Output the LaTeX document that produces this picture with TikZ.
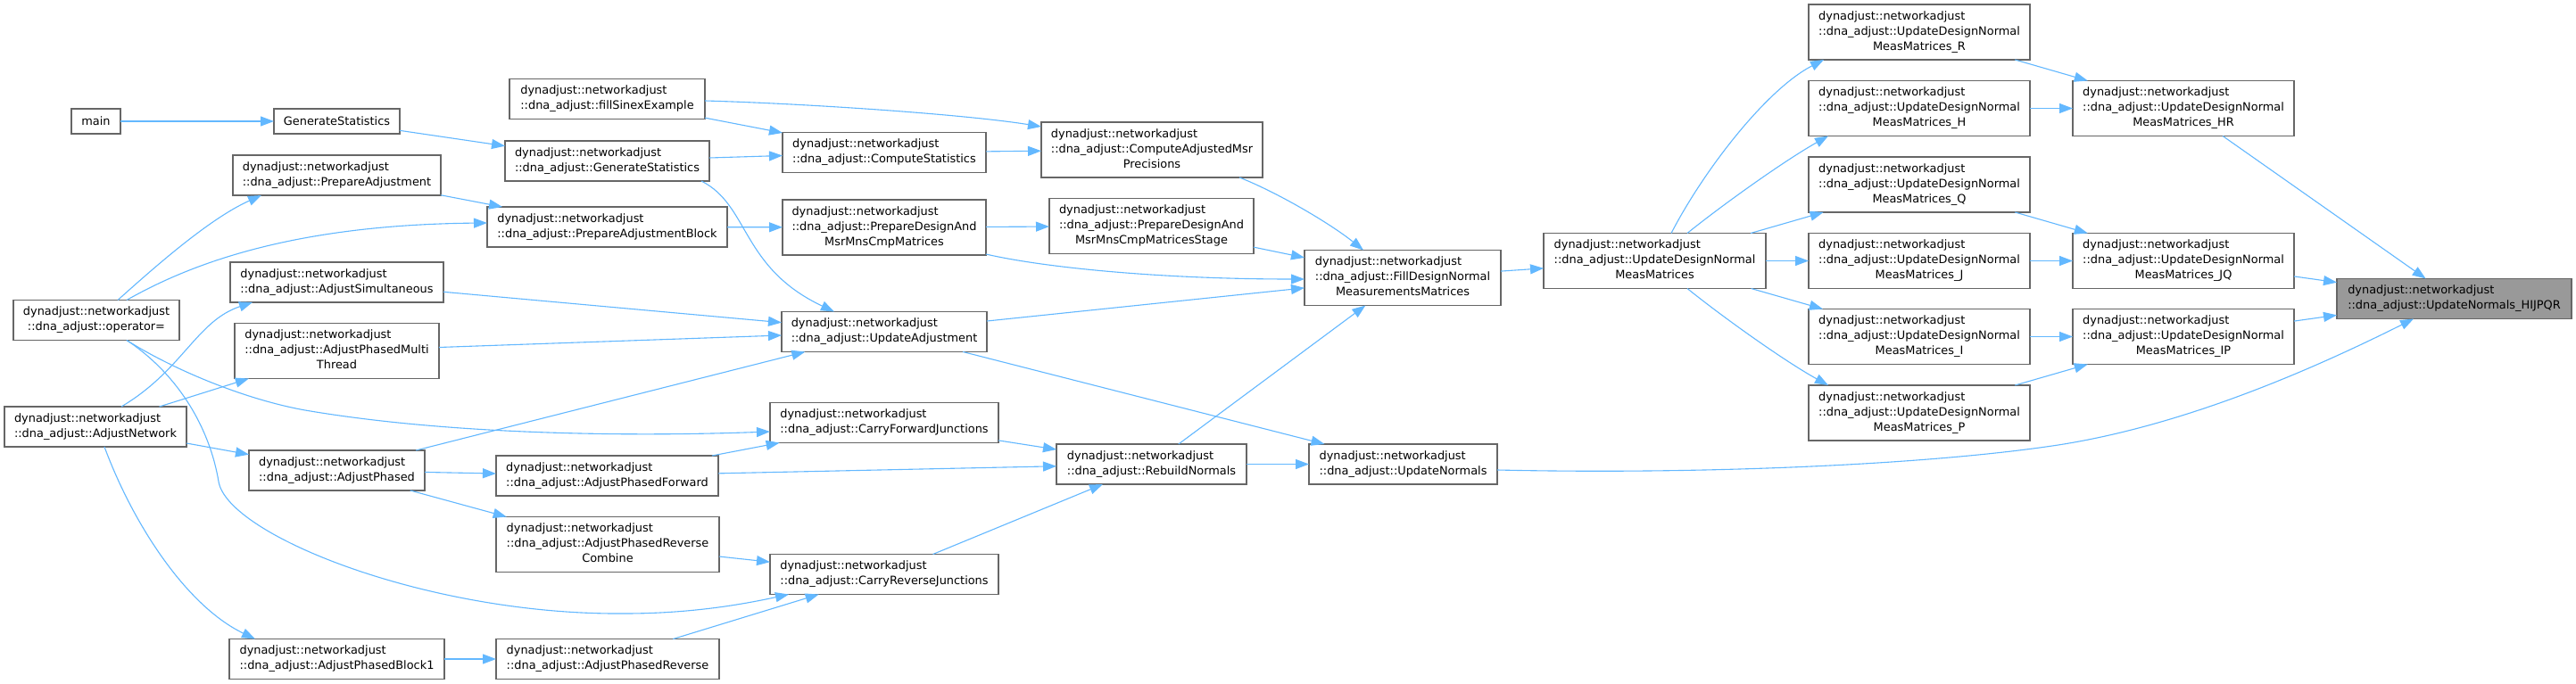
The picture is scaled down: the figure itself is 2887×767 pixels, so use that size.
\documentclass[tikz,border=0pt]{standalone}
\usepackage{fontspec}
\setmainfont{DejaVu Sans}
\usetikzlibrary{arrows.meta,calc}
\definecolor{edgeblue}{HTML}{63B8FF}
\definecolor{boxgray}{HTML}{666666}
\definecolor{hlgray}{HTML}{999999}
\newcommand\lbl{\fontsize{12.9}{17}\selectfont}
\newcommand\two[2]{\begin{tabular}{@{}l@{}}#1\\\multicolumn{1}{@{}c@{}}{#2}\end{tabular}}
\newcommand\three[3]{\begin{tabular}{@{}l@{}}#1\\#2\\\multicolumn{1}{@{}c@{}}{#3}\end{tabular}}
\newcommand\dn{dynadjust::networkadjust}
\newcommand\bx[6]{\node[box, minimum width=#4pt, minimum height=#5pt] (#1) at (#2,#3) {#6};}
\tikzset{
  box/.style={draw=boxgray, fill=white, line width=1.3pt, inner sep=0pt, outer sep=0pt, font=\lbl, align=center},
  e/.style={draw=edgeblue, line width=1.1pt, -{Triangle[length=15pt,width=11pt]}}
}
\begin{document}
\begin{tikzpicture}[x=1pt,y=-1pt]
\useasboundingbox[fill=white] (0,0) rectangle (2887,767);
% nodes
\bx{main}{107.5}{136}{55}{28}{main}
\bx{gsA}{377.5}{136}{141}{28}{GenerateStatistics}
\bx{fse}{680.5}{111}{219}{45}{\two{\dn}{::dna\_adjust::fillSinexExample}}
\bx{gs}{680.5}{180.5}{229}{45}{\two{\dn}{::dna\_adjust::GenerateStatistics}}
\bx{pa}{377.5}{196.5}{233}{45}{\two{\dn}{::dna\_adjust::PrepareAdjustment}}
\bx{pab}{680.5}{254.5}{269}{45}{\two{\dn}{::dna\_adjust::PrepareAdjustmentBlock}}
\bx{asim}{377.5}{316.5}{239}{45}{\two{\dn}{::dna\_adjust::AdjustSimultaneous}}
\bx{apmt}{377.5}{393.5}{229}{62}{\three{\dn}{::dna\_adjust::AdjustPhasedMulti}{Thread}}
\bx{op}{108}{359}{186}{45}{\two{\dn}{::dna\_adjust::operator=}}
\bx{an}{107}{478.5}{204}{45}{\two{\dn}{::dna\_adjust::AdjustNetwork}}
\bx{ap}{377.5}{527.5}{197}{45}{\two{\dn}{::dna\_adjust::AdjustPhased}}
\bx{apf}{680.5}{533.5}{249}{45}{\two{\dn}{::dna\_adjust::AdjustPhasedForward}}
\bx{aprc}{681}{610.5}{250}{62}{\three{\dn}{::dna\_adjust::AdjustPhasedReverse}{Combine}}
\bx{apbA}{377.5}{739}{241}{45}{\two{\dn}{::dna\_adjust::AdjustPhasedBlock1}}
\bx{apr}{681}{739}{250}{45}{\two{\dn}{::dna\_adjust::AdjustPhasedReverse}}
\bx{cs}{991}{171}{228}{45}{\two{\dn}{::dna\_adjust::ComputeStatistics}}
\bx{camp}{1291}{168}{248}{62}{\three{\dn}{::dna\_adjust::ComputeAdjustedMsr}{Precisions}}
\bx{pdm}{991}{255}{228}{62}{\three{\dn}{::dna\_adjust::PrepareDesignAnd}{MsrMnsCmpMatrices}}
\bx{pdms}{1290.5}{253.5}{229}{62}{\three{\dn}{::dna\_adjust::PrepareDesignAnd}{MsrMnsCmpMatricesStage}}
\bx{ua}{991}{372}{230}{45}{\two{\dn}{::dna\_adjust::UpdateAdjustment}}
\bx{cfj}{991}{474}{256}{45}{\two{\dn}{::dna\_adjust::CarryForwardJunctions}}
\bx{rn}{1290.5}{520.5}{213}{45}{\two{\dn}{::dna\_adjust::RebuildNormals}}
\bx{crj}{991}{644}{256}{45}{\two{\dn}{::dna\_adjust::CarryReverseJunctions}}
\bx{fd}{1572}{311.5}{220}{62}{\three{\dn}{::dna\_adjust::FillDesignNormal}{MeasurementsMatrices}}
\bx{un}{1572.5}{520.5}{211}{45}{\two{\dn}{::dna\_adjust::UpdateNormals}}
\bx{udn}{1854.5}{292.5}{249}{62}{\three{\dn}{::dna\_adjust::UpdateDesignNormal}{MeasMatrices}}
\bx{R}{2151}{36}{248}{62}{\three{\dn}{::dna\_adjust::UpdateDesignNormal}{MeasMatrices\_R}}
\bx{H}{2151}{121.5}{248}{62}{\three{\dn}{::dna\_adjust::UpdateDesignNormal}{MeasMatrices\_H}}
\bx{Q}{2151}{207}{248}{62}{\three{\dn}{::dna\_adjust::UpdateDesignNormal}{MeasMatrices\_Q}}
\bx{J}{2151}{292.5}{248}{62}{\three{\dn}{::dna\_adjust::UpdateDesignNormal}{MeasMatrices\_J}}
\bx{I}{2151}{377.5}{248}{62}{\three{\dn}{::dna\_adjust::UpdateDesignNormal}{MeasMatrices\_I}}
\bx{P}{2151}{463}{248}{62}{\three{\dn}{::dna\_adjust::UpdateDesignNormal}{MeasMatrices\_P}}
\bx{HR}{2447}{121.5}{248}{62}{\three{\dn}{::dna\_adjust::UpdateDesignNormal}{MeasMatrices\_HR}}
\bx{JQ}{2447}{292.5}{248}{62}{\three{\dn}{::dna\_adjust::UpdateDesignNormal}{MeasMatrices\_JQ}}
\bx{IP}{2447}{377.5}{248}{62}{\three{\dn}{::dna\_adjust::UpdateDesignNormal}{MeasMatrices\_IP}}
\node[box, fill=hlgray, minimum width=263pt, minimum height=45pt] (hij) at (2750.5,335) {\two{\dn}{::dna\_adjust::UpdateNormals\_HIJPQR}};
% straight edges
\draw[e] (main) -- (gsA);
\draw[e] (gsA) -- (gs);
\draw[e] (pa) -- (pab);
\draw[e] (fse) -- (cs);
\draw[e] (gs) -- (cs);
\draw[e] (cs) -- (camp);
\draw[e] (pab) -- (pdm);
\draw[e] (pdm) -- (pdms);
\draw[e] (pdms) -- (fd);
\draw[e] (ua) -- (fd);
\draw[e] (rn) -- (fd);
\draw[e] (fd) -- (udn);
\draw[e] (udn) -- (Q);
\draw[e] (udn) -- (J);
\draw[e] (udn) -- (I);
\draw[e] (R) -- (HR);
\draw[e] (H) -- (HR);
\draw[e] (Q) -- (JQ);
\draw[e] (J) -- (JQ);
\draw[e] (I) -- (IP);
\draw[e] (P) -- (IP);
\draw[e] (HR) -- (hij);
\draw[e] (JQ) -- (hij);
\draw[e] (IP) -- (hij);
\draw[e] (rn) -- (un);
\draw[e] (ua) -- (un);
\draw[e] (cfj) -- (rn);
\draw[e] (apf) -- (rn);
\draw[e] (crj) -- (rn);
\draw[e] (apf) -- (cfj);
\draw[e] (ap) -- (apf);
\draw[e] (ap) -- (aprc);
\draw[e] (ap) -- (ua);
\draw[e] (aprc) -- (crj);
\draw[e] (apr) -- (crj);
\draw[e] (apbA) -- (apr);
\draw[e] (an) -- (apmt);
\draw[e] (an) -- (ap);
\draw[e] (asim) -- (ua);
\draw[e] (apmt) -- (ua);
% curved edges
\draw[e] ($(op.north)+(24,0)$) .. controls (175,298) and (235,245) .. ($(pa.south west)+(32,0)$);
\draw[e] ($(op.north)+(34,0)$) .. controls (215,295) and (330,252) .. ($(pab.west)+(0,-4.5)$);
\draw[e] ($(op.south)+(34,0)$) .. controls (190,412) and (270,447) .. (342,460) .. controls (500,487) and (700,490) .. ($(cfj.west)+(0,10)$);
\draw[e] ($(op.south)+(34,0)$) .. controls (200,420) and (235,480) .. (245,540) .. controls (255,600) and (480,690) .. (700,688) .. controls (780,688) and (840,676) .. ($(crj.south west)+(21,0)$);
\draw[e] ($(an.north)+(29,0)$) .. controls (205,415) and (220,360) .. ($(asim.south west)+(25,0)$);
\draw[e] ($(an.south)+(10,0)$) .. controls (150,590) and (210,680) .. ($(apbA.north west)+(29,0)$);
\draw[e] ($(gs.south)+(105.5,0)$) .. controls (840,230) and (830,300) .. ($(ua.north west)+(59,0)$);
\draw[e] ($(fse.east)+(0,2)$) .. controls (900,116) and (1080,128) .. ($(camp.west)+(0,-26)$);
\draw[e] ($(camp.south)+(98,0)$) .. controls (1430,215) and (1490,250) .. ($(fd.north west)+(66,0)$);
\draw[e] ($(pdm.east)+(0,30)$) .. controls (1170,300) and (1300,313) .. ($(fd.west)+(0,1.5)$);
\draw[e] ($(udn.north)+(18.5,0)$) .. controls (1910,190) and (1980,100) .. ($(R.south west)+(17,0)$);
\draw[e] ($(udn.north)+(36.5,0)$) .. controls (1930,230) and (2000,180) .. ($(H.south west)+(22,0)$);
\draw[e] ($(udn.south)+(36.5,0)$) .. controls (1930,355) and (2000,405) .. ($(P.north west)+(22,0)$);
\draw[e] ($(un.east)+(0,6.5)$) .. controls (1900,532) and (2150,522) .. (2300,500) .. controls (2450,478) and (2600,410) .. ($(hij.south west)+(86,0)$);
\end{tikzpicture}
\end{document}
